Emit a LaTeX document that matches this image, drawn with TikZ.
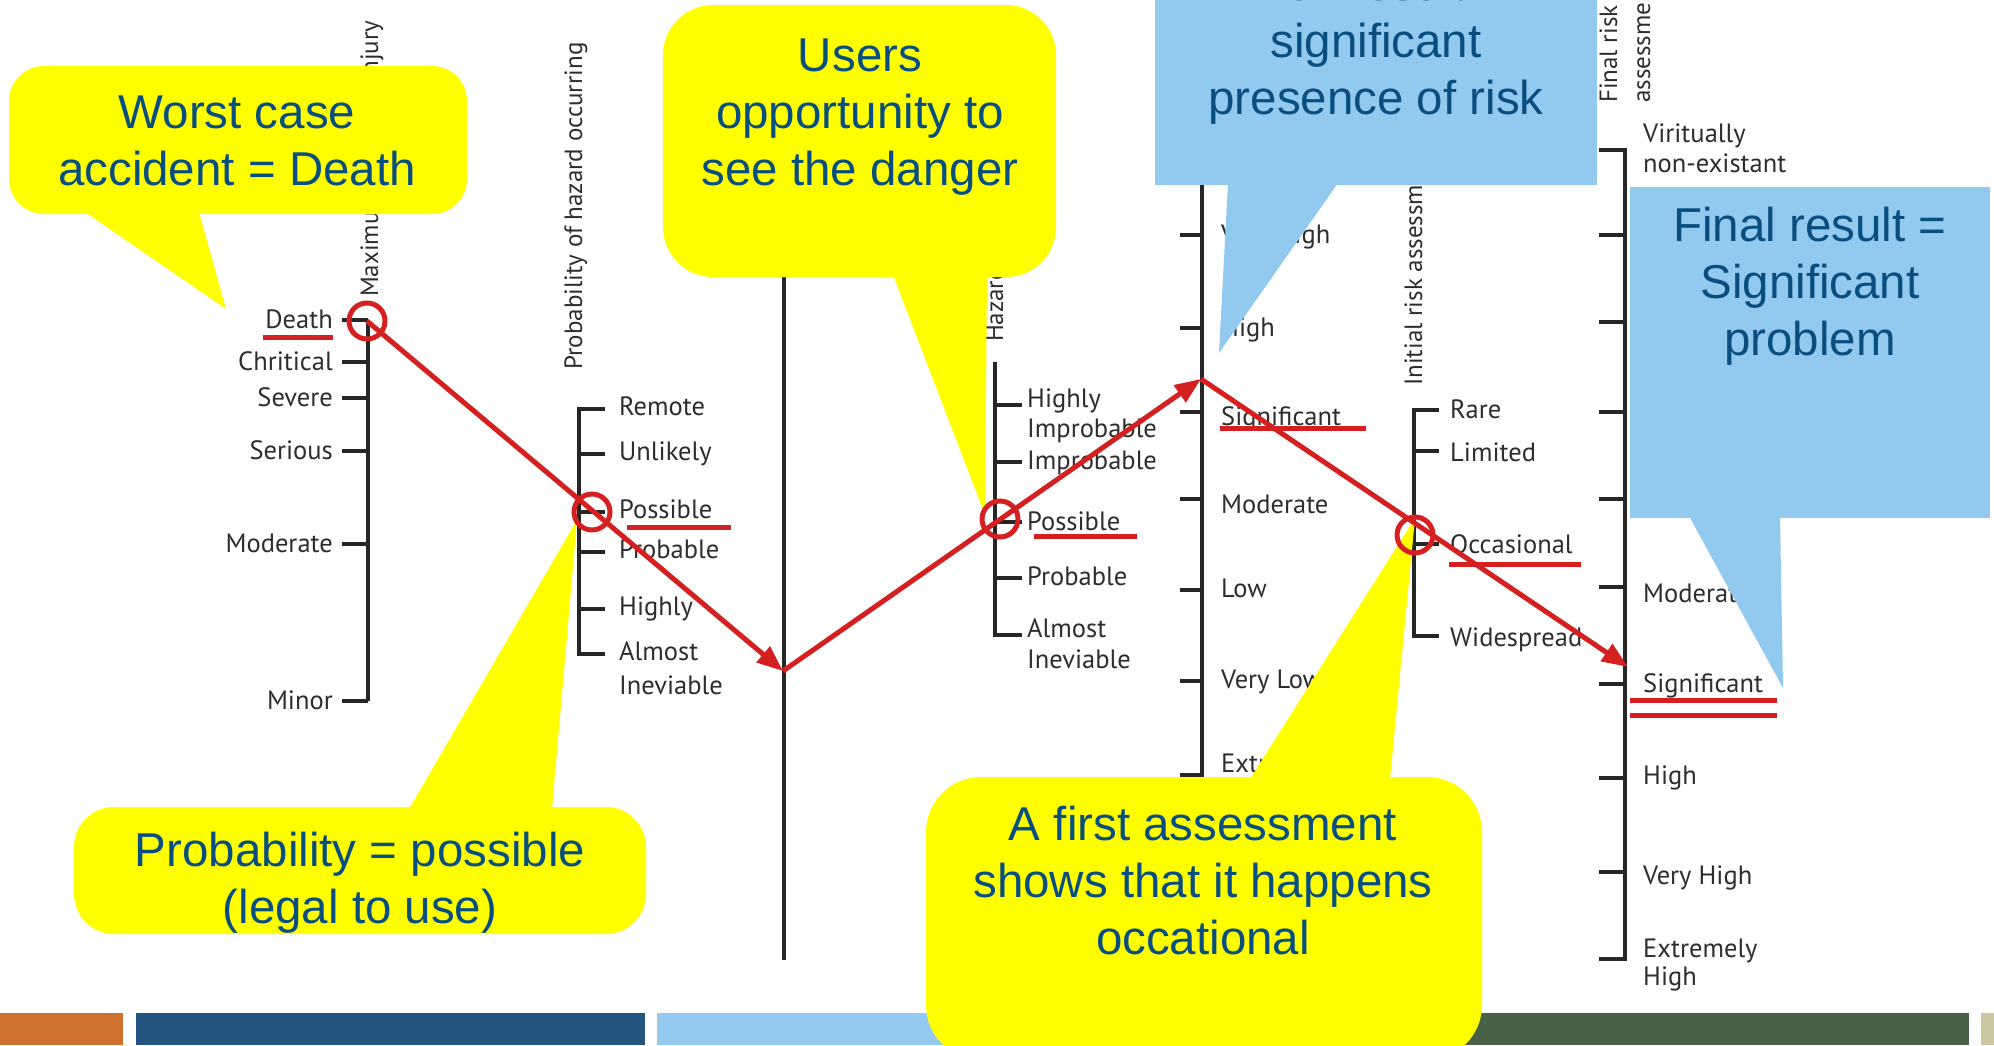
\documentclass[tikz,border=0pt]{standalone}
\usepackage{fontspec}
\newfontfamily\calloutfont{Liberation Sans}
\newfontfamily\nomofont{PT Sans}
\usetikzlibrary{arrows.meta}

\definecolor{bubbleyellow}{RGB}{255,255,0}
\definecolor{bubbleblue}{RGB}{146,201,238}
\definecolor{bubbletext}{RGB}{8,78,128}
\definecolor{markred}{RGB}{212,32,32}
\definecolor{labelgrey}{RGB}{45,45,45}
\definecolor{barorange}{RGB}{206,112,46}
\definecolor{bardarkblue}{RGB}{35,85,128}
\definecolor{barlightblue}{RGB}{148,202,239}
\definecolor{bargreen}{RGB}{72,98,73}
\definecolor{barbeige}{RGB}{201,198,160}

\tikzset{
	nomoaxis/.style = {line width = 3.5pt, black!85},
	scalelabel/.style = {font = \nomofont\fontsize{26.5}{31}\selectfont,
						 text = labelgrey, inner sep = 0pt, anchor = base west},
	axistitle/.style = {scalelabel, font = \nomofont\fontsize{25}{29}\selectfont, rotate = 90},
	calltext/.style = {font = \calloutfont\fontsize{47.5}{57}\selectfont,
					   text = bubbletext, align = center, inner sep = 0pt, anchor = base},
	ring/.style = {draw = markred, line width = 5pt, shape = circle,
				   minimum size = 36pt, inner sep = 0pt},
	underline/.style = {draw = markred, line width = 5pt},
	redarrow/.style = {draw = markred, line width = 5pt,
					   -{Triangle[length = 26pt, width = 20pt]}}
}

\begin{document}
\begin{tikzpicture}[x = 1pt, y = -1pt]
	\useasboundingbox (0, 0) rectangle (1994, 1045);
	\clip (0, 0) rectangle (1994, 1045);

	\fill[barorange] (0, 1013) rectangle (123, 1045);
	\fill[bardarkblue] (136, 1013) rectangle (645, 1045);
	\fill[barlightblue] (657, 1013) rectangle (1430, 1045);
	\fill[bargreen] (1441, 1013) rectangle (1969, 1045);
	\fill[barbeige] (1981, 1013) rectangle (1994, 1045);

	\draw[nomoaxis] (368, 320) -- (368, 701);
	\foreach \y/\word in {320/Death, 362/Chritical, 398/Severe, 451/Serious, 544/Moderate, 701/Minor}
	{
		\draw[nomoaxis] (342, \y) -- (368, \y);
		\draw (333, \y + 8) node[scalelabel, anchor = base east] (inj-\word) {\word};
	}
	\draw (378, 297) node[axistitle] (inj-title) {Maximum potential injury};

	\draw[nomoaxis] (605, 409) -- (579, 409) -- (579, 654) -- (605, 654);
	\foreach \y/\word in {454/Unlikely, 512/Possible, 552/Probable, 609/Highly}
		\draw[nomoaxis] (579, \y) -- (605, \y);
	\foreach \y/\word in {415/Remote, 460/Unlikely, 518/Possible, 558/Probable, 615/Highly, 660/Almost, 694/Ineviable}
		\draw (619, \y) node[scalelabel] (prob-\word) {\word};
	\draw (582, 370) node[axistitle] (prob-title) {Probability of hazard occurring};

	\draw[nomoaxis] (784, 270) -- (784, 960);

	\draw[nomoaxis] (995, 362) -- (995, 635) -- (1022, 635);
	\foreach \y in {405, 462, 522, 578}
		\draw[nomoaxis] (995, \y) -- (1022, \y);
	\draw (1027, 407) node[scalelabel] (haz-highly) {Highly};
	\draw (1027, 437) node[scalelabel] (haz-highlyb) {Improbable};
	\draw (1027, 469) node[scalelabel] (haz-improbable) {Improbable};
	\draw (1027, 530) node[scalelabel] (haz-possible) {Possible};
	\draw (1027, 585) node[scalelabel] (haz-probable) {Probable};
	\draw (1027, 637) node[scalelabel] (haz-almost) {Almost};
	\draw (1027, 668) node[scalelabel] (haz-almostb) {Ineviable};
	\draw (1003, 342) node[axistitle] (haz-title) {Hazard avoidance};

	\draw[nomoaxis] (1202, 180) -- (1202, 775) -- (1180, 775);
	\foreach \y in {235, 328, 412, 499, 590, 681}
		\draw[nomoaxis] (1180, \y) -- (1202, \y);
	\draw (1221, 243) node[scalelabel] (init-veryhigh) {Very High};
	\draw (1221, 336) node[scalelabel] (init-high) {High};
	\draw (1221, 425) node[scalelabel] (init-significant) {Significant};
	\draw (1221, 513) node[scalelabel] (init-moderate) {Moderate};
	\draw (1221, 597) node[scalelabel] (init-low) {Low};
	\draw (1221, 688) node[scalelabel] (init-verylow) {Very Low};
	\draw (1221, 772) node[scalelabel] (init-extremely) {Extremely};

	\draw[nomoaxis] (1439, 410) -- (1414, 410) -- (1414, 636) -- (1439, 636);
	\foreach \y in {451, 544}
		\draw[nomoaxis] (1414, \y) -- (1439, \y);
	\foreach \y/\word in {418/Rare, 461/Limited, 553/Occasional, 646/Widespread}
		\draw (1450, \y) node[scalelabel] (expo-\word) {\word};
	\draw (1422, 386) node[axistitle] (expo-title) {Initial risk assessment};

	\draw[nomoaxis] (1599, 150) -- (1625, 150) -- (1625, 959) -- (1599, 959);
	\foreach \y in {235, 322, 412, 499, 587, 684, 778, 872}
		\draw[nomoaxis] (1599, \y) -- (1625, \y);
	\draw (1643, 142) node[scalelabel] (fin-virtually) {Viritually};
	\draw (1643, 172) node[scalelabel] (fin-virtuallyb) {non-existant};
	\draw (1643, 602) node[scalelabel] (fin-moderate) {Moderate};
	\draw (1643, 692) node[scalelabel] (fin-significant) {Significant};
	\draw (1643, 784) node[scalelabel] (fin-high) {High};
	\draw (1643, 884) node[scalelabel] (fin-veryhigh) {Very High};
	\draw (1643, 957) node[scalelabel] (fin-extremely) {Extremely};
	\draw (1643, 985) node[scalelabel] (fin-extremelyb) {High};
	\draw (1617, 103) node[axistitle] (fin-title) {Final risk};
	\draw (1650, 103) node[axistitle] (fin-titleb) {assessment};

	\fill[bubbleyellow, rounded corners = 35pt] (9, 66) rectangle (467, 214);
	\fill[bubbleyellow] (85, 212) -- (199, 212) -- (226, 309) -- cycle;
	\draw (237, 185) node[calltext] (worst) {Worst case\\accident = Death};

	\fill[bubbleyellow, rounded corners = 50pt] (663, 5) rectangle (1056, 277);
	\fill[bubbleyellow] (893, 275) -- (987, 275) -- (985, 515) -- cycle;
	\draw (860, 185) node[calltext] (users) {Users\\opportunity to\\see the danger};

	\fill[bubbleblue] (1155, -30) rectangle (1597, 185);
	\fill[bubbleblue] (1228, 183) -- (1338, 183) -- (1219, 353) -- cycle;
	\draw (1376, 114) node[calltext] (fullres) {Full result :\\significant\\presence of risk};

	\fill[bubbleblue] (1630, 187) rectangle (1990, 518);
	\fill[bubbleblue] (1689, 516) -- (1780, 516) -- (1783, 688) -- cycle;
	\draw (1810, 355) node[calltext] (finalres) {Final result =\\Significant\\problem};

	\fill[bubbleyellow, rounded corners = 40pt] (74, 807) rectangle (646, 934);
	\fill[bubbleyellow] (409, 809) -- (552, 809) -- (577, 520) -- cycle;
	\draw (360, 923) node[calltext] (probposs) {Probability = possible\\(legal to use)};

	\fill[bubbleyellow, rounded corners = 55pt] (926, 777) rectangle (1482, 1060);
	\fill[bubbleyellow] (1250, 779) -- (1390, 779) -- (1415, 518) -- cycle;
	\draw (1203, 954) node[calltext] (firstass) {A first assessment\\shows that it happens\\occational};

	\draw[underline] (263, 337) -- (333, 337);
	\draw[underline] (627, 527) -- (731, 527);
	\draw[underline] (1034, 536) -- (1137, 536);
	\draw[underline] (1220, 428) -- (1366, 428);
	\draw[underline] (1449, 564) -- (1581, 564);
	\draw[underline] (1630, 700) -- (1777, 700);
	\draw[underline] (1630, 715) -- (1777, 715);

	\draw (367, 321) node[ring] (death) {};
	\draw (592, 512) node[ring] (possible) {};
	\draw (1000, 519) node[ring] (avoid) {};
	\draw (1415, 535) node[ring] (occasional) {};
	\coordinate (refpt) at (783, 671);
	\coordinate (peak) at (1201, 379);
	\coordinate (result) at (1628, 667);

	\draw[redarrow] (death.center) -- (refpt);
	\draw[redarrow] (refpt) -- (peak);
	\draw[redarrow] (peak) -- (result);
\end{tikzpicture}
\end{document}
